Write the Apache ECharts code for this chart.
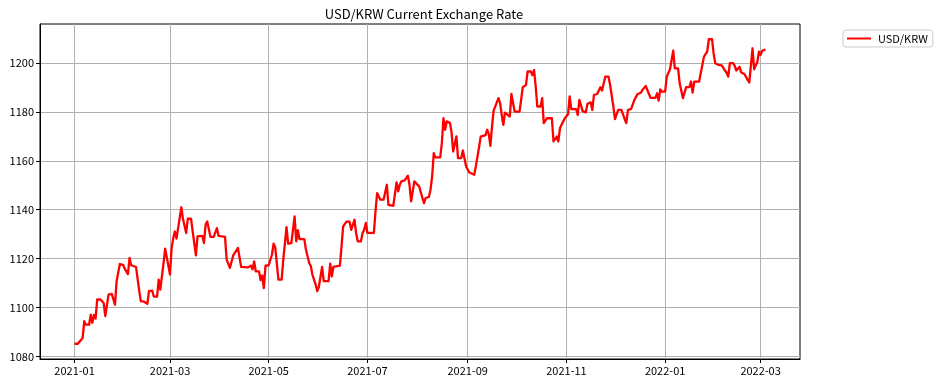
<!DOCTYPE html>
<html><head><meta charset="utf-8">
<script src="https://cdn.jsdelivr.net/npm/echarts@6/dist/echarts.min.js"></script>
<style>html,body{margin:0;padding:0;background:#fff}#c{width:939px;height:386px}</style>
</head><body><div id="c"></div>
<script>
const titleText = 'USD/KRW Current Exchange Rate';
const seriesName = 'USD/KRW';
const xTickLabels = ['2021-01','2021-03','2021-05','2021-07','2021-09','2021-11','2022-01','2022-03'];
const yTicks = [1080,1100,1120,1140,1160,1180,1200];
const dates = [
'2021-01-01','2021-01-03','2021-01-06','2021-01-07','2021-01-08','2021-01-10','2021-01-11','2021-01-12','2021-01-13','2021-01-14',
'2021-01-15','2021-01-17','2021-01-19','2021-01-20','2021-01-22','2021-01-24','2021-01-26','2021-01-27','2021-01-29','2021-01-31',
'2021-02-01','2021-02-03','2021-02-04','2021-02-05','2021-02-08','2021-02-10','2021-02-11','2021-02-13','2021-02-15','2021-02-16',
'2021-02-17','2021-02-18','2021-02-19','2021-02-21','2021-02-22','2021-02-23','2021-02-25','2021-02-26','2021-02-27','2021-03-01',
'2021-03-02','2021-03-03','2021-03-04','2021-03-05','2021-03-06','2021-03-08','2021-03-09','2021-03-10','2021-03-11','2021-03-12',
'2021-03-14','2021-03-15','2021-03-17','2021-03-18','2021-03-21','2021-03-22','2021-03-23','2021-03-24','2021-03-26','2021-03-28',
'2021-03-30','2021-03-31','2021-04-04','2021-04-05','2021-04-06','2021-04-07','2021-04-09','2021-04-10','2021-04-12','2021-04-13',
'2021-04-14','2021-04-18','2021-04-19','2021-04-20','2021-04-21','2021-04-22','2021-04-23','2021-04-25','2021-04-26','2021-04-27',
'2021-04-28','2021-04-29','2021-05-01','2021-05-03','2021-05-04','2021-05-05','2021-05-07','2021-05-09','2021-05-10','2021-05-12',
'2021-05-13','2021-05-15','2021-05-17','2021-05-18','2021-05-19','2021-05-20','2021-05-23','2021-05-24','2021-05-26','2021-05-27',
'2021-05-28','2021-05-29','2021-05-30','2021-05-31','2021-06-01','2021-06-03','2021-06-04','2021-06-07','2021-06-08','2021-06-09',
'2021-06-10','2021-06-14','2021-06-15','2021-06-16','2021-06-18','2021-06-20','2021-06-21','2021-06-23','2021-06-24','2021-06-25',
'2021-06-27','2021-06-28','2021-06-29','2021-06-30','2021-07-01','2021-07-05','2021-07-06','2021-07-07','2021-07-09','2021-07-11',
'2021-07-13','2021-07-14','2021-07-17','2021-07-19','2021-07-20','2021-07-21','2021-07-22','2021-07-24','2021-07-26','2021-07-27',
'2021-07-28','2021-07-30','2021-07-31','2021-08-02','2021-08-04','2021-08-05','2021-08-06','2021-08-08','2021-08-09','2021-08-10',
'2021-08-11','2021-08-12','2021-08-15','2021-08-16','2021-08-17','2021-08-18','2021-08-19','2021-08-21','2021-08-22','2021-08-23',
'2021-08-25','2021-08-26','2021-08-28','2021-08-29','2021-08-31','2021-09-01','2021-09-02','2021-09-05','2021-09-06','2021-09-08',
'2021-09-09','2021-09-12','2021-09-13','2021-09-14','2021-09-15','2021-09-16','2021-09-17','2021-09-18','2021-09-20','2021-09-21',
'2021-09-22','2021-09-23','2021-09-24','2021-09-25','2021-09-27','2021-09-28','2021-09-29','2021-09-30','2021-10-03','2021-10-04',
'2021-10-05','2021-10-07','2021-10-08','2021-10-10','2021-10-11','2021-10-12','2021-10-13','2021-10-14','2021-10-16','2021-10-17',
'2021-10-18','2021-10-20','2021-10-23','2021-10-24','2021-10-26','2021-10-27','2021-10-28','2021-10-29','2021-10-31','2021-11-01',
'2021-11-02','2021-11-03','2021-11-04','2021-11-07','2021-11-08','2021-11-09','2021-11-11','2021-11-13','2021-11-14','2021-11-16',
'2021-11-17','2021-11-18','2021-11-20','2021-11-22','2021-11-23','2021-11-24','2021-11-25','2021-11-27','2021-11-28','2021-11-30',
'2021-12-01','2021-12-02','2021-12-03','2021-12-05','2021-12-07','2021-12-08','2021-12-09','2021-12-11','2021-12-13','2021-12-14',
'2021-12-15','2021-12-17','2021-12-18','2021-12-20','2021-12-21','2021-12-23','2021-12-26','2021-12-27','2021-12-28','2021-12-29',
'2021-12-30','2022-01-01','2022-01-02','2022-01-04','2022-01-05','2022-01-06','2022-01-07','2022-01-09','2022-01-10','2022-01-12',
'2022-01-13','2022-01-14','2022-01-16','2022-01-17','2022-01-18','2022-01-19','2022-01-22','2022-01-23','2022-01-24','2022-01-25',
'2022-01-27','2022-01-28','2022-01-30','2022-01-31','2022-02-01','2022-02-03','2022-02-05','2022-02-07','2022-02-08','2022-02-09',
'2022-02-10','2022-02-12','2022-02-13','2022-02-14','2022-02-15','2022-02-16','2022-02-17','2022-02-19','2022-02-20','2022-02-21',
'2022-02-22','2022-02-23','2022-02-24','2022-02-25','2022-02-26','2022-02-27','2022-02-28','2022-03-01','2022-03-02','2022-03-03',
'2022-03-04'
];
const rates = [
1085.2,1085.2,1087.6,1094.4,1093.0,1093.0,1097.1,1093.8,1097.0,1095.5,
1103.3,1103.3,1101.9,1096.5,1105.3,1105.6,1101.2,1110.8,1117.8,1117.5,
1115.9,1113.7,1120.3,1117.3,1116.6,1106.7,1102.6,1102.4,1101.5,1106.7,
1106.0,1106.9,1104.5,1104.5,1111.4,1107.3,1118.2,1124.1,1124.0,1113.5,
1124.4,1128.4,1131.1,1128.2,1128.7,1141.0,1136.3,1136.0,1130.5,1136.3,
1136.3,1131.2,1121.3,1129.1,1129.3,1126.4,1133.9,1135.2,1128.9,1128.9,
1132.5,1129.3,1128.9,1119.6,1119.0,1116.2,1121.2,1121.2,1124.4,1120.3,
1116.6,1116.4,1115.6,1117.1,1115.6,1118.9,1114.8,1114.8,1111.2,1113.1,
1108.0,1117.1,1117.3,1121.6,1126.1,1124.8,1111.4,1111.4,1119.6,1132.9,
1126.1,1126.3,1137.3,1127.1,1131.6,1128.0,1128.0,1123.7,1118.2,1117.0,
1113.5,1113.5,1109.4,1106.7,1108.5,1116.6,1110.8,1110.8,1118.0,1112.8,
1116.6,1117.1,1125.0,1133.2,1135.1,1135.1,1131.8,1135.9,1130.5,1127.1,
1127.1,1130.5,1131.8,1134.6,1130.5,1130.5,1139.3,1146.8,1144.1,1144.1,
1150.2,1142.0,1141.6,1151.2,1147.5,1150.2,1151.6,1152.0,1153.9,1150.2,
1143.4,1151.6,1151.6,1149.5,1144.8,1142.7,1144.8,1145.2,1148.2,1153.6,
1163.1,1161.4,1161.4,1167.2,1177.4,1172.7,1176.1,1175.5,1171.6,1163.8,
1170.0,1161.1,1161.1,1164.2,1157.7,1158.3,1155.2,1154.3,1157.7,1165.6,
1169.9,1170.5,1172.7,1171.0,1166.1,1174.0,1180.5,1180.8,1185.6,1183.6,
1178.8,1174.7,1179.7,1179.7,1178.1,1187.3,1186.5,1180.1,1180.1,1184.9,
1190.1,1191.0,1196.5,1196.5,1195.0,1197.1,1190.4,1182.2,1182.2,1185.6,
1175.4,1177.4,1177.4,1167.9,1169.9,1167.9,1173.3,1174.7,1177.4,1178.2,
1179.0,1186.3,1181.1,1181.1,1178.8,1184.9,1180.3,1179.8,1183.3,1183.9,
1180.8,1186.9,1187.3,1190.1,1188.7,1188.7,1194.4,1194.4,1191.0,1182.2,
1177.0,1177.0,1180.8,1180.8,1177.0,1175.4,1180.7,1181.2,1184.9,1184.9,
1187.3,1187.8,1189.0,1190.6,1190.6,1185.7,1185.7,1187.6,1184.6,1189.2,
1188.3,1188.3,1194.4,1197.4,1198.2,1205.0,1197.8,1197.8,1191.7,1185.6,
1186.3,1190.1,1190.1,1192.4,1187.9,1192.4,1192.4,1195.8,1196.5,1202.6,
1204.6,1209.7,1209.7,1203.7,1199.9,1199.2,1199.0,1196.9,1196.0,1194.4,
1199.9,1199.9,1198.8,1196.9,1196.9,1198.4,1196.1,1195.5,1195.5,1193.1,
1192.0,1192.0,1206.0,1197.4,1197.4,1200.5,1204.6,1203.3,1205.0,1205.3,
1205.5
];

const FONT = '"Noto Sans CJK KR", "Noto Sans", sans-serif';
const parse = s => echarts.number.parseDate(s).getTime();
const xs = dates.map(parse);
const xSpan = xs[xs.length - 1] - xs[0];
const xMin = xs[0] - 0.05 * xSpan;
const xMax = xs[xs.length - 1] + 0.05 * xSpan;
const yLo = Math.min(...rates), yHi = Math.max(...rates);
const yMin = yLo - 0.05 * (yHi - yLo);
const yMax = yHi + 0.05 * (yHi - yLo);
const xTickValues = xTickLabels.map(s => parse(s + '-01'));

const chart = echarts.init(document.getElementById('c'), null, {renderer: 'canvas'});
chart.setOption({
  animation: false,
  backgroundColor: '#ffffff',
  textStyle: {fontFamily: FONT},
  title: {
    text: titleText, left: 419, top: 3, textAlign: 'center',
    textStyle: {fontFamily: FONT, fontSize: 13, fontWeight: 'normal', color: '#000'}
  },
  legend: {
    data: [seriesName], left: 843, top: 30, orient: 'vertical',
    icon: 'rect', itemWidth: 24, itemHeight: 2, itemGap: 8,
    padding: [3, 5, 3, 4], borderColor: '#cccccc', borderWidth: 1, borderRadius: 3,
    backgroundColor: '#fff',
    textStyle: {fontFamily: FONT, fontSize: 11, color: '#000', padding: [0, 0, 0, 2]}
  },
  grid: {left: 40, right: 139, top: 24, bottom: 27, show: true, borderColor: '#000', borderWidth: 1, containLabel: false},
  xAxis: {
    type: 'value', min: xMin, max: xMax, scale: true,
    axisLine: {show: true, lineStyle: {color: '#000', width: 1}},
    axisTick: {show: true, inside: false, length: 4, customValues: xTickValues, lineStyle: {color: '#000'}},
    axisLabel: {
      customValues: xTickValues, margin: 6, color: '#000', fontSize: 11, fontFamily: FONT,
      formatter: v => { const i = xTickValues.indexOf(v); return i >= 0 ? xTickLabels[i] : ''; }
    },
    splitLine: {show: true, lineStyle: {color: '#b0b0b0', width: 1}}
  },
  yAxis: {
    type: 'value', min: yMin, max: yMax, scale: true,
    axisLine: {show: true, lineStyle: {color: '#000', width: 1}},
    axisTick: {show: true, inside: false, length: 4, customValues: yTicks, lineStyle: {color: '#000'}},
    axisLabel: {customValues: yTicks, margin: 6, color: '#000', fontSize: 11, fontFamily: FONT,
      formatter: v => String(v)},
    splitLine: {show: true, lineStyle: {color: '#b0b0b0', width: 1}}
  },
  series: [{
    name: seriesName, type: 'line', showSymbol: false, symbol: 'none',
    data: xs.map((t, i) => [t, rates[i]]),
    lineStyle: {color: '#ff0000', width: 2.3, join: 'round'},
    itemStyle: {color: '#ff0000'}
  }]
});
</script></body></html>
